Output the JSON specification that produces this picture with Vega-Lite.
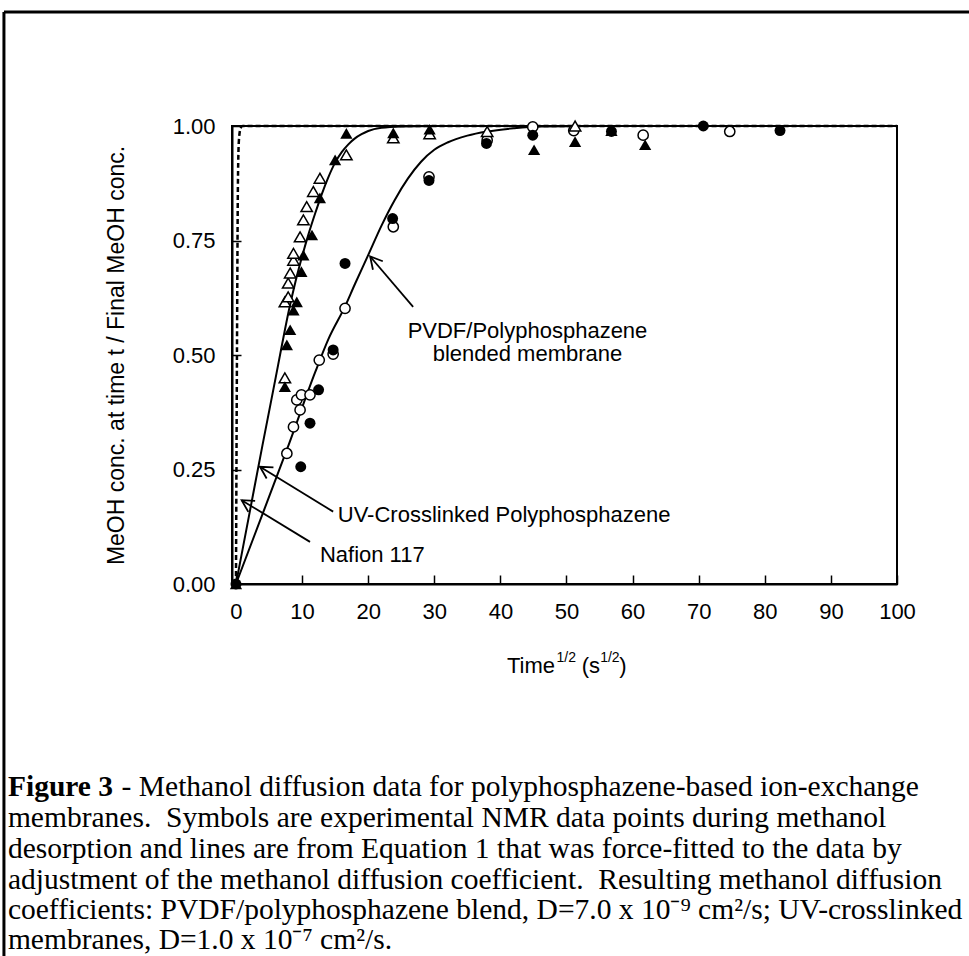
{
  "$schema": "https://vega.github.io/schema/vega-lite/v6.json",
  "width": 665,
  "height": 458,
  "autosize": {"type": "none"},
  "padding": {"left": 232, "top": 126, "right": 72, "bottom": 372},
  "background": "white",
  "config": {"view": {"stroke": "black", "strokeWidth": 2}, "font": "Liberation Sans"},
  "datasets": {
    "frame": [
      {"x": -35.1, "y": 1.249, "x2": 110.9, "y2": 1.249},
      {"x": -35.1, "y": 1.249, "x2": -35.1, "y2": -0.82}
    ],
    "fitUV": [
      {"x": 0, "y": 0}, {"x": 2, "y": 0.151}, {"x": 4, "y": 0.302}, {"x": 6, "y": 0.45},
      {"x": 7, "y": 0.525}, {"x": 8, "y": 0.597}, {"x": 9, "y": 0.66}, {"x": 10, "y": 0.715},
      {"x": 11, "y": 0.765}, {"x": 12, "y": 0.81}, {"x": 13, "y": 0.852}, {"x": 14, "y": 0.889},
      {"x": 15, "y": 0.92}, {"x": 16, "y": 0.943}, {"x": 17, "y": 0.96}, {"x": 18, "y": 0.973},
      {"x": 19, "y": 0.982}, {"x": 20, "y": 0.989}, {"x": 22, "y": 0.996}, {"x": 25, "y": 0.999},
      {"x": 30, "y": 1}, {"x": 100, "y": 1}
    ],
    "fitPVDF": [
      {"x": 0, "y": 0}, {"x": 4, "y": 0.152}, {"x": 8, "y": 0.305}, {"x": 12, "y": 0.463},
      {"x": 14, "y": 0.535}, {"x": 16.5, "y": 0.606}, {"x": 18, "y": 0.655}, {"x": 20, "y": 0.718},
      {"x": 22, "y": 0.782}, {"x": 24, "y": 0.838}, {"x": 26, "y": 0.885}, {"x": 28, "y": 0.922},
      {"x": 30, "y": 0.948}, {"x": 32, "y": 0.964}, {"x": 35, "y": 0.979}, {"x": 38, "y": 0.988},
      {"x": 42, "y": 0.995}, {"x": 46, "y": 0.999}, {"x": 55, "y": 1}, {"x": 100, "y": 1}
    ],
    "fitNafion": [
      {"x": 0, "y": 0}, {"x": 0.15, "y": 0.5}, {"x": 0.3, "y": 0.88}, {"x": 0.45, "y": 0.97},
      {"x": 0.7, "y": 0.995}, {"x": 1, "y": 1}, {"x": 100, "y": 1}
    ],
    "pts": [
      {"type": "oc", "x": 7.7, "y": 0.285}, {"type": "oc", "x": 8.7, "y": 0.343}, {"type": "oc", "x": 9.7, "y": 0.38},
      {"type": "oc", "x": 9.2, "y": 0.402}, {"type": "oc", "x": 9.9, "y": 0.413}, {"type": "oc", "x": 11.2, "y": 0.413},
      {"type": "oc", "x": 12.6, "y": 0.489}, {"type": "oc", "x": 14.7, "y": 0.502}, {"type": "oc", "x": 16.5, "y": 0.602},
      {"type": "oc", "x": 23.8, "y": 0.78}, {"type": "oc", "x": 29.2, "y": 0.889}, {"type": "oc", "x": 38.0, "y": 0.969},
      {"type": "oc", "x": 44.9, "y": 0.998}, {"type": "oc", "x": 51.1, "y": 0.99}, {"type": "oc", "x": 61.6, "y": 0.98},
      {"type": "oc", "x": 74.7, "y": 0.988},
      {"type": "ot", "x": 7.4, "y": 0.45}, {"type": "ot", "x": 7.4, "y": 0.616}, {"type": "ot", "x": 7.9, "y": 0.627},
      {"type": "ot", "x": 7.9, "y": 0.657}, {"type": "ot", "x": 8.2, "y": 0.679}, {"type": "ot", "x": 8.7, "y": 0.707},
      {"type": "ot", "x": 8.7, "y": 0.722}, {"type": "ot", "x": 9.7, "y": 0.758}, {"type": "ot", "x": 10.2, "y": 0.795},
      {"type": "ot", "x": 10.7, "y": 0.824}, {"type": "ot", "x": 11.7, "y": 0.857}, {"type": "ot", "x": 12.7, "y": 0.886},
      {"type": "ot", "x": 16.7, "y": 0.937}, {"type": "ot", "x": 23.8, "y": 0.974}, {"type": "ot", "x": 29.3, "y": 0.983},
      {"type": "ot", "x": 38.0, "y": 0.988}, {"type": "ot", "x": 51.3, "y": 1.0},
      {"type": "fc", "x": 0, "y": 0}, {"type": "fc", "x": 9.8, "y": 0.256}, {"type": "fc", "x": 11.2, "y": 0.351},
      {"type": "fc", "x": 12.5, "y": 0.424}, {"type": "fc", "x": 14.7, "y": 0.511}, {"type": "fc", "x": 16.5, "y": 0.7},
      {"type": "fc", "x": 23.7, "y": 0.798}, {"type": "fc", "x": 29.2, "y": 0.881}, {"type": "fc", "x": 37.9, "y": 0.962},
      {"type": "fc", "x": 44.9, "y": 0.98}, {"type": "fc", "x": 56.8, "y": 0.988}, {"type": "fc", "x": 70.7, "y": 1.0},
      {"type": "fc", "x": 82.3, "y": 0.99},
      {"type": "ft", "x": 0, "y": 0}, {"type": "ft", "x": 7.4, "y": 0.431}, {"type": "ft", "x": 7.7, "y": 0.522},
      {"type": "ft", "x": 8.2, "y": 0.555}, {"type": "ft", "x": 8.7, "y": 0.598}, {"type": "ft", "x": 9.2, "y": 0.616},
      {"type": "ft", "x": 9.9, "y": 0.682}, {"type": "ft", "x": 10.2, "y": 0.718}, {"type": "ft", "x": 11.5, "y": 0.762},
      {"type": "ft", "x": 12.7, "y": 0.843}, {"type": "ft", "x": 15.0, "y": 0.926}, {"type": "ft", "x": 16.7, "y": 0.984},
      {"type": "ft", "x": 23.8, "y": 0.985}, {"type": "ft", "x": 29.3, "y": 0.993}, {"type": "ft", "x": 45.1, "y": 0.948},
      {"type": "ft", "x": 51.3, "y": 0.966}, {"type": "ft", "x": 56.8, "y": 0.99}, {"type": "ft", "x": 61.9, "y": 0.959}
    ],
    "arrows": [
      {"name": "Nafion", "x": 0.86, "y": 0.183, "x2": 11.2, "y2": 0.092},
      {"name": "UV", "x": 3.63, "y": 0.256, "x2": 14.7, "y2": 0.158},
      {"name": "PVDF", "x": 20.3, "y": 0.715, "x2": 26.8, "y2": 0.605}
    ],
    "labelsLeft": [
      {"x": 12.7, "y": 0.064, "t": "Nafion 117"},
      {"x": 15.4, "y": 0.151, "t": "UV-Crosslinked Polyphosphazene"}
    ],
    "labelsCenter": [
      {"x": 44.1, "y": 0.553, "t": "PVDF/Polyphosphazene"},
      {"x": 44.1, "y": 0.502, "t": "blended membrane"}
    ],
    "xtitle": [
      {"x": 41.0, "y": -0.179, "t": "Time"},
      {"x": 52.3, "y": -0.179, "t": "(s"},
      {"x": 58.0, "y": -0.179, "t": ")"}
    ],
    "xtitleSup": [
      {"x": 48.5, "y": -0.162, "t": "1/2"},
      {"x": 55.1, "y": -0.162, "t": "1/2"}
    ],
    "capBold": [
      {"x": -34.5, "y": -0.443, "t": "Figure 3"}
    ],
    "cap": [
      {"x": -17.3, "y": -0.443, "t": "- Methanol diffusion data for polyphosphazene-based ion-exchange"},
      {"x": -34.5, "y": -0.511, "t": "membranes.\u00a0 Symbols are experimental NMR data points during methanol"},
      {"x": -34.5, "y": -0.579, "t": "desorption and lines are from Equation 1 that was force-fitted to the data by"},
      {"x": -34.5, "y": -0.646, "t": "adjustment of the methanol diffusion coefficient.\u00a0 Resulting methanol diffusion"},
      {"x": -34.5, "y": -0.712, "t": "coefficients: PVDF/polyphosphazene blend, D=7.0 x 10\u207b\u2079 cm\u00b2/s; UV-crosslinked"},
      {"x": -34.5, "y": -0.777, "t": "membranes, D=1.0 x 10\u207b\u2077 cm\u00b2/s."}
    ]
  },
  "encoding": {
    "x": {
      "field": "x", "type": "quantitative",
      "scale": {"domain": [-0.6, 100], "nice": false, "zero": false},
      "axis": {
        "values": [0, 10, 20, 30, 40, 50, 60, 70, 80, 90, 100],
        "title": null, "grid": false, "labelFlush": false, "labelOverlap": false,
        "labelFont": "Liberation Sans", "labelFontSize": 22, "labelColor": "black", "labelPadding": 26,
        "tickSize": -9, "tickColor": "black", "tickWidth": 1.5,
        "domainColor": "black", "domainWidth": 2
      }
    },
    "y": {
      "field": "y", "type": "quantitative",
      "scale": {"domain": [0, 1], "nice": false, "zero": false},
      "axis": {
        "values": [0, 0.25, 0.5, 0.75, 1], "format": ".2f",
        "title": "MeOH conc. at time t / Final MeOH conc.",
        "titleFont": "Liberation Sans", "titleFontSize": 23, "titleFontWeight": "normal", "titleColor": "black",
        "titlePadding": 44,
        "grid": false, "labelFlush": false, "labelOverlap": false,
        "labelFont": "Liberation Sans", "labelFontSize": 22, "labelColor": "black", "labelPadding": 26,
        "tickSize": -9, "tickColor": "black", "tickWidth": 1.5,
        "domainColor": "black", "domainWidth": 2
      }
    }
  },
  "layer": [
    {
      "data": {"name": "frame"},
      "mark": {"type": "rule", "color": "black", "strokeWidth": 3},
      "encoding": {"x2": {"field": "x2"}, "y2": {"field": "y2"}}
    },
    {
      "data": {"name": "fitNafion"},
      "mark": {"type": "line", "color": "black", "strokeWidth": 2.5, "strokeDash": [5, 3], "interpolate": "monotone"},
      "encoding": {}
    },
    {
      "data": {"name": "fitUV"},
      "mark": {"type": "line", "color": "black", "strokeWidth": 2, "interpolate": "monotone"},
      "encoding": {}
    },
    {
      "data": {"name": "fitPVDF"},
      "mark": {"type": "line", "color": "black", "strokeWidth": 2, "interpolate": "monotone"},
      "encoding": {}
    },
    {
      "data": {"name": "pts"},
      "transform": [{"filter": "datum.type === 'oc'"}],
      "mark": {"type": "point", "shape": "circle", "filled": true, "fill": "white", "stroke": "black", "strokeWidth": 1.5, "size": 105, "opacity": 1}
    },
    {
      "data": {"name": "pts"},
      "transform": [{"filter": "datum.type === 'ot'"}],
      "mark": {"type": "point", "shape": "triangle-up", "filled": true, "fill": "white", "stroke": "black", "strokeWidth": 1.5, "size": 130, "opacity": 1}
    },
    {
      "data": {"name": "pts"},
      "transform": [{"filter": "datum.type === 'fc'"}],
      "mark": {"type": "point", "shape": "circle", "filled": true, "color": "black", "size": 120, "opacity": 1}
    },
    {
      "data": {"name": "pts"},
      "transform": [{"filter": "datum.type === 'ft'"}],
      "mark": {"type": "point", "shape": "triangle-up", "filled": true, "color": "black", "size": 150, "opacity": 1}
    },
    {
      "data": {"name": "arrows"},
      "mark": {"type": "rule", "color": "black", "strokeWidth": 1.8},
      "encoding": {"x2": {"field": "x2"}, "y2": {"field": "y2"}}
    },
    {
      "data": {"name": "arrows"},
      "transform": [{"filter": "datum.name !== 'PVDF'"}],
      "mark": {"type": "point", "shape": "M -0.55 1 L 0 0 L 0.55 1", "filled": false, "stroke": "black", "strokeWidth": 1.8, "size": 560, "angle": 301.5, "opacity": 1}
    },
    {
      "data": {"name": "arrows"},
      "transform": [{"filter": "datum.name === 'PVDF'"}],
      "mark": {"type": "point", "shape": "M -0.55 1 L 0 0 L 0.55 1", "filled": false, "stroke": "black", "strokeWidth": 1.8, "size": 560, "angle": 319.3, "opacity": 1}
    },
    {
      "data": {"name": "labelsLeft"},
      "mark": {"type": "text", "align": "left", "baseline": "middle", "font": "Liberation Sans", "fontSize": 22, "color": "black"},
      "encoding": {"text": {"field": "t"}}
    },
    {
      "data": {"name": "labelsCenter"},
      "mark": {"type": "text", "align": "center", "baseline": "middle", "font": "Liberation Sans", "fontSize": 22, "color": "black"},
      "encoding": {"text": {"field": "t"}}
    },
    {
      "data": {"name": "xtitle"},
      "mark": {"type": "text", "align": "left", "baseline": "middle", "font": "Liberation Sans", "fontSize": 22, "color": "black"},
      "encoding": {"text": {"field": "t"}}
    },
    {
      "data": {"name": "xtitleSup"},
      "mark": {"type": "text", "align": "left", "baseline": "middle", "font": "Liberation Sans", "fontSize": 14, "color": "black"},
      "encoding": {"text": {"field": "t"}}
    },
    {
      "data": {"name": "capBold"},
      "mark": {"type": "text", "align": "left", "baseline": "middle", "font": "Liberation Serif", "fontSize": 29.5, "fontWeight": "bold", "color": "black"},
      "encoding": {"text": {"field": "t"}}
    },
    {
      "data": {"name": "cap"},
      "mark": {"type": "text", "align": "left", "baseline": "middle", "font": "Liberation Serif", "fontSize": 29.5, "color": "black"},
      "encoding": {"text": {"field": "t"}}
    }
  ]
}
